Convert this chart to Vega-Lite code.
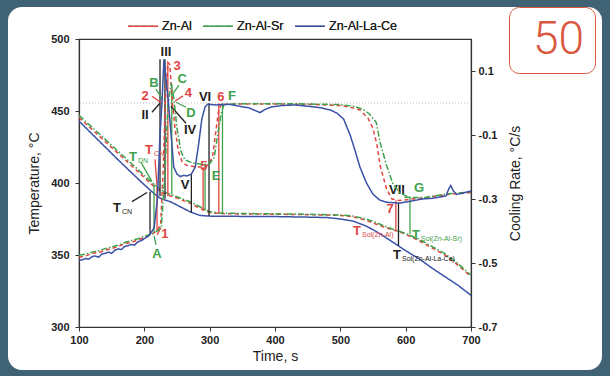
{
"$schema": "https://vega.github.io/schema/vega-lite/v6.json",
"width": 392, "height": 288,
"autosize": {"type": "none"},
"padding": {"left": 79, "top": 39, "right": 139, "bottom": 49},
"background": "#ffffff",
"config": {
  "view": {"stroke": "#333333", "strokeWidth": 1.2},
  "font": "Liberation Sans",
  "axis": {"grid": false, "labelFlush": false, "labelOverlap": false, "domainColor": "#333333", "domainWidth": 1.2, "tickColor": "#333333", "tickSize": 4, "labelFont": "Liberation Sans", "labelFontWeight": "bold", "labelFontSize": 11, "labelColor": "#222222", "titleFont": "Liberation Sans", "titleFontWeight": "normal", "titleFontSize": 14, "titleColor": "#222222"}
},
"datasets": {
  "temp": [
    {"alloy":"Zn-Al","t":100,"v":445.5},{"alloy":"Zn-Al","t":130,"v":433},{"alloy":"Zn-Al","t":160,"v":420.5},{"alloy":"Zn-Al","t":190,"v":408},{"alloy":"Zn-Al","t":210,"v":399.5},{"alloy":"Zn-Al","t":218,"v":396.5},{"alloy":"Zn-Al","t":225,"v":394},{"alloy":"Zn-Al","t":232,"v":392.5},{"alloy":"Zn-Al","t":240,"v":391},{"alloy":"Zn-Al","t":250,"v":389.5},{"alloy":"Zn-Al","t":270,"v":386},{"alloy":"Zn-Al","t":285,"v":382.5},{"alloy":"Zn-Al","t":300,"v":379.5},{"alloy":"Zn-Al","t":315,"v":378.8},{"alloy":"Zn-Al","t":350,"v":378.5},{"alloy":"Zn-Al","t":400,"v":378.3},{"alloy":"Zn-Al","t":450,"v":378},{"alloy":"Zn-Al","t":500,"v":377.5},{"alloy":"Zn-Al","t":520,"v":376.5},{"alloy":"Zn-Al","t":540,"v":374},{"alloy":"Zn-Al","t":560,"v":370.5},{"alloy":"Zn-Al","t":580,"v":367.5},{"alloy":"Zn-Al","t":600,"v":364.5},{"alloy":"Zn-Al","t":620,"v":360},{"alloy":"Zn-Al","t":640,"v":355},{"alloy":"Zn-Al","t":660,"v":350},{"alloy":"Zn-Al","t":680,"v":343},{"alloy":"Zn-Al","t":700,"v":335},
    {"alloy":"Zn-Al-Sr","t":100,"v":447},{"alloy":"Zn-Al-Sr","t":130,"v":434.5},{"alloy":"Zn-Al-Sr","t":160,"v":422},{"alloy":"Zn-Al-Sr","t":190,"v":409.5},{"alloy":"Zn-Al-Sr","t":210,"v":401},{"alloy":"Zn-Al-Sr","t":218,"v":398},{"alloy":"Zn-Al-Sr","t":225,"v":395.5},{"alloy":"Zn-Al-Sr","t":232,"v":393.5},{"alloy":"Zn-Al-Sr","t":240,"v":392},{"alloy":"Zn-Al-Sr","t":250,"v":390.5},{"alloy":"Zn-Al-Sr","t":270,"v":387},{"alloy":"Zn-Al-Sr","t":285,"v":383.5},{"alloy":"Zn-Al-Sr","t":300,"v":380},{"alloy":"Zn-Al-Sr","t":315,"v":379.2},{"alloy":"Zn-Al-Sr","t":350,"v":378.8},{"alloy":"Zn-Al-Sr","t":400,"v":378.6},{"alloy":"Zn-Al-Sr","t":450,"v":378.3},{"alloy":"Zn-Al-Sr","t":500,"v":377.8},{"alloy":"Zn-Al-Sr","t":520,"v":377},{"alloy":"Zn-Al-Sr","t":540,"v":375},{"alloy":"Zn-Al-Sr","t":560,"v":371.5},{"alloy":"Zn-Al-Sr","t":580,"v":368},{"alloy":"Zn-Al-Sr","t":600,"v":365},{"alloy":"Zn-Al-Sr","t":620,"v":361},{"alloy":"Zn-Al-Sr","t":640,"v":356},{"alloy":"Zn-Al-Sr","t":660,"v":351},{"alloy":"Zn-Al-Sr","t":680,"v":344},{"alloy":"Zn-Al-Sr","t":700,"v":336},
    {"alloy":"Zn-Al-La-Ce","t":100,"v":443},{"alloy":"Zn-Al-La-Ce","t":130,"v":429.5},{"alloy":"Zn-Al-La-Ce","t":160,"v":416},{"alloy":"Zn-Al-La-Ce","t":190,"v":403},{"alloy":"Zn-Al-La-Ce","t":209,"v":395},{"alloy":"Zn-Al-La-Ce","t":218,"v":391.5},{"alloy":"Zn-Al-La-Ce","t":226,"v":389},{"alloy":"Zn-Al-La-Ce","t":240,"v":387},{"alloy":"Zn-Al-La-Ce","t":255,"v":383.5},{"alloy":"Zn-Al-La-Ce","t":270,"v":380},{"alloy":"Zn-Al-La-Ce","t":285,"v":377.5},{"alloy":"Zn-Al-La-Ce","t":300,"v":377},{"alloy":"Zn-Al-La-Ce","t":350,"v":376.8},{"alloy":"Zn-Al-La-Ce","t":400,"v":376.7},{"alloy":"Zn-Al-La-Ce","t":450,"v":376.3},{"alloy":"Zn-Al-La-Ce","t":480,"v":376},{"alloy":"Zn-Al-La-Ce","t":500,"v":375},{"alloy":"Zn-Al-La-Ce","t":520,"v":373.5},{"alloy":"Zn-Al-La-Ce","t":540,"v":370},{"alloy":"Zn-Al-La-Ce","t":560,"v":365},{"alloy":"Zn-Al-La-Ce","t":580,"v":359},{"alloy":"Zn-Al-La-Ce","t":600,"v":353},{"alloy":"Zn-Al-La-Ce","t":620,"v":347.5},{"alloy":"Zn-Al-La-Ce","t":640,"v":341},{"alloy":"Zn-Al-La-Ce","t":660,"v":335},{"alloy":"Zn-Al-La-Ce","t":680,"v":329},{"alloy":"Zn-Al-La-Ce","t":700,"v":322}
  ],
  "rate": [
    {"alloy":"Zn-Al","t":100,"v":-0.482},{"alloy":"Zn-Al","t":110,"v":-0.478},{"alloy":"Zn-Al","t":120,"v":-0.47},{"alloy":"Zn-Al","t":130,"v":-0.468},{"alloy":"Zn-Al","t":140,"v":-0.46},{"alloy":"Zn-Al","t":150,"v":-0.455},{"alloy":"Zn-Al","t":160,"v":-0.448},{"alloy":"Zn-Al","t":170,"v":-0.44},{"alloy":"Zn-Al","t":180,"v":-0.436},{"alloy":"Zn-Al","t":190,"v":-0.428},{"alloy":"Zn-Al","t":200,"v":-0.42},{"alloy":"Zn-Al","t":210,"v":-0.412},{"alloy":"Zn-Al","t":219,"v":-0.4},{"alloy":"Zn-Al","t":225,"v":-0.38},{"alloy":"Zn-Al","t":229,"v":-0.2},{"alloy":"Zn-Al","t":232,"v":0},{"alloy":"Zn-Al","t":236,"v":0.127},{"alloy":"Zn-Al","t":239,"v":0.12},{"alloy":"Zn-Al","t":243,"v":0},{"alloy":"Zn-Al","t":247,"v":-0.08},{"alloy":"Zn-Al","t":252,"v":-0.15},{"alloy":"Zn-Al","t":258,"v":-0.185},{"alloy":"Zn-Al","t":265,"v":-0.195},{"alloy":"Zn-Al","t":280,"v":-0.2},{"alloy":"Zn-Al","t":292,"v":-0.2},{"alloy":"Zn-Al","t":300,"v":-0.19},{"alloy":"Zn-Al","t":305,"v":-0.16},{"alloy":"Zn-Al","t":310,"v":-0.08},{"alloy":"Zn-Al","t":314,"v":-0.02},{"alloy":"Zn-Al","t":318,"v":-0.004},{"alloy":"Zn-Al","t":350,"v":-0.003},{"alloy":"Zn-Al","t":400,"v":-0.003},{"alloy":"Zn-Al","t":450,"v":-0.004},{"alloy":"Zn-Al","t":500,"v":-0.008},{"alloy":"Zn-Al","t":515,"v":-0.013},{"alloy":"Zn-Al","t":530,"v":-0.022},{"alloy":"Zn-Al","t":542,"v":-0.046},{"alloy":"Zn-Al","t":550,"v":-0.08},{"alloy":"Zn-Al","t":556,"v":-0.13},{"alloy":"Zn-Al","t":561,"v":-0.197},{"alloy":"Zn-Al","t":571,"v":-0.27},{"alloy":"Zn-Al","t":579,"v":-0.3},{"alloy":"Zn-Al","t":590,"v":-0.305},{"alloy":"Zn-Al","t":610,"v":-0.3},{"alloy":"Zn-Al","t":630,"v":-0.296},{"alloy":"Zn-Al","t":650,"v":-0.29},{"alloy":"Zn-Al","t":670,"v":-0.285},{"alloy":"Zn-Al","t":700,"v":-0.28},
    {"alloy":"Zn-Al-Sr","t":100,"v":-0.476},{"alloy":"Zn-Al-Sr","t":110,"v":-0.472},{"alloy":"Zn-Al-Sr","t":120,"v":-0.466},{"alloy":"Zn-Al-Sr","t":130,"v":-0.462},{"alloy":"Zn-Al-Sr","t":140,"v":-0.455},{"alloy":"Zn-Al-Sr","t":150,"v":-0.45},{"alloy":"Zn-Al-Sr","t":160,"v":-0.444},{"alloy":"Zn-Al-Sr","t":170,"v":-0.436},{"alloy":"Zn-Al-Sr","t":180,"v":-0.43},{"alloy":"Zn-Al-Sr","t":190,"v":-0.424},{"alloy":"Zn-Al-Sr","t":200,"v":-0.416},{"alloy":"Zn-Al-Sr","t":210,"v":-0.41},{"alloy":"Zn-Al-Sr","t":216,"v":-0.405},{"alloy":"Zn-Al-Sr","t":226,"v":-0.39},{"alloy":"Zn-Al-Sr","t":232,"v":-0.2},{"alloy":"Zn-Al-Sr","t":236,"v":-0.01},{"alloy":"Zn-Al-Sr","t":241,"v":0.06},{"alloy":"Zn-Al-Sr","t":244,"v":0.03},{"alloy":"Zn-Al-Sr","t":246,"v":0},{"alloy":"Zn-Al-Sr","t":250,"v":-0.08},{"alloy":"Zn-Al-Sr","t":256,"v":-0.15},{"alloy":"Zn-Al-Sr","t":262,"v":-0.178},{"alloy":"Zn-Al-Sr","t":275,"v":-0.188},{"alloy":"Zn-Al-Sr","t":290,"v":-0.192},{"alloy":"Zn-Al-Sr","t":300,"v":-0.19},{"alloy":"Zn-Al-Sr","t":307,"v":-0.17},{"alloy":"Zn-Al-Sr","t":313,"v":-0.09},{"alloy":"Zn-Al-Sr","t":318,"v":-0.03},{"alloy":"Zn-Al-Sr","t":322,"v":-0.005},{"alloy":"Zn-Al-Sr","t":350,"v":-0.002},{"alloy":"Zn-Al-Sr","t":400,"v":-0.002},{"alloy":"Zn-Al-Sr","t":450,"v":-0.003},{"alloy":"Zn-Al-Sr","t":500,"v":-0.005},{"alloy":"Zn-Al-Sr","t":520,"v":-0.01},{"alloy":"Zn-Al-Sr","t":535,"v":-0.02},{"alloy":"Zn-Al-Sr","t":545,"v":-0.035},{"alloy":"Zn-Al-Sr","t":555,"v":-0.061},{"alloy":"Zn-Al-Sr","t":561,"v":-0.124},{"alloy":"Zn-Al-Sr","t":571,"v":-0.197},{"alloy":"Zn-Al-Sr","t":581,"v":-0.255},{"alloy":"Zn-Al-Sr","t":591,"v":-0.28},{"alloy":"Zn-Al-Sr","t":600,"v":-0.29},{"alloy":"Zn-Al-Sr","t":607,"v":-0.295},{"alloy":"Zn-Al-Sr","t":630,"v":-0.295},{"alloy":"Zn-Al-Sr","t":650,"v":-0.288},{"alloy":"Zn-Al-Sr","t":670,"v":-0.283},{"alloy":"Zn-Al-Sr","t":700,"v":-0.278},
    {"alloy":"Zn-Al-La-Ce","t":100,"v":-0.492},{"alloy":"Zn-Al-La-Ce","t":105,"v":-0.49},{"alloy":"Zn-Al-La-Ce","t":110,"v":-0.486},{"alloy":"Zn-Al-La-Ce","t":115,"v":-0.488},{"alloy":"Zn-Al-La-Ce","t":120,"v":-0.48},{"alloy":"Zn-Al-La-Ce","t":125,"v":-0.478},{"alloy":"Zn-Al-La-Ce","t":130,"v":-0.482},{"alloy":"Zn-Al-La-Ce","t":135,"v":-0.472},{"alloy":"Zn-Al-La-Ce","t":140,"v":-0.47},{"alloy":"Zn-Al-La-Ce","t":145,"v":-0.466},{"alloy":"Zn-Al-La-Ce","t":150,"v":-0.47},{"alloy":"Zn-Al-La-Ce","t":155,"v":-0.46},{"alloy":"Zn-Al-La-Ce","t":160,"v":-0.456},{"alloy":"Zn-Al-La-Ce","t":165,"v":-0.458},{"alloy":"Zn-Al-La-Ce","t":170,"v":-0.448},{"alloy":"Zn-Al-La-Ce","t":175,"v":-0.446},{"alloy":"Zn-Al-La-Ce","t":180,"v":-0.442},{"alloy":"Zn-Al-La-Ce","t":185,"v":-0.444},{"alloy":"Zn-Al-La-Ce","t":190,"v":-0.434},{"alloy":"Zn-Al-La-Ce","t":195,"v":-0.43},{"alloy":"Zn-Al-La-Ce","t":200,"v":-0.424},{"alloy":"Zn-Al-La-Ce","t":205,"v":-0.418},{"alloy":"Zn-Al-La-Ce","t":209,"v":-0.41},{"alloy":"Zn-Al-La-Ce","t":215,"v":-0.39},{"alloy":"Zn-Al-La-Ce","t":220,"v":-0.3},{"alloy":"Zn-Al-La-Ce","t":224,"v":-0.1},{"alloy":"Zn-Al-La-Ce","t":227,"v":0},{"alloy":"Zn-Al-La-Ce","t":230,"v":0.137},{"alloy":"Zn-Al-La-Ce","t":234,"v":0.06},{"alloy":"Zn-Al-La-Ce","t":237,"v":0},{"alloy":"Zn-Al-La-Ce","t":241,"v":-0.1},{"alloy":"Zn-Al-La-Ce","t":245,"v":-0.2},{"alloy":"Zn-Al-La-Ce","t":250,"v":-0.222},{"alloy":"Zn-Al-La-Ce","t":255,"v":-0.23},{"alloy":"Zn-Al-La-Ce","t":260,"v":-0.226},{"alloy":"Zn-Al-La-Ce","t":265,"v":-0.228},{"alloy":"Zn-Al-La-Ce","t":272,"v":-0.222},{"alloy":"Zn-Al-La-Ce","t":278,"v":-0.2},{"alloy":"Zn-Al-La-Ce","t":283,"v":-0.13},{"alloy":"Zn-Al-La-Ce","t":288,"v":-0.05},{"alloy":"Zn-Al-La-Ce","t":293,"v":-0.012},{"alloy":"Zn-Al-La-Ce","t":297,"v":-0.004},{"alloy":"Zn-Al-La-Ce","t":310,"v":-0.006},{"alloy":"Zn-Al-La-Ce","t":330,"v":-0.004},{"alloy":"Zn-Al-La-Ce","t":350,"v":-0.012},{"alloy":"Zn-Al-La-Ce","t":360,"v":-0.015},{"alloy":"Zn-Al-La-Ce","t":370,"v":-0.024},{"alloy":"Zn-Al-La-Ce","t":377,"v":-0.03},{"alloy":"Zn-Al-La-Ce","t":385,"v":-0.02},{"alloy":"Zn-Al-La-Ce","t":395,"v":-0.012},{"alloy":"Zn-Al-La-Ce","t":410,"v":-0.008},{"alloy":"Zn-Al-La-Ce","t":430,"v":-0.006},{"alloy":"Zn-Al-La-Ce","t":450,"v":-0.01},{"alloy":"Zn-Al-La-Ce","t":470,"v":-0.015},{"alloy":"Zn-Al-La-Ce","t":485,"v":-0.022},{"alloy":"Zn-Al-La-Ce","t":495,"v":-0.032},{"alloy":"Zn-Al-La-Ce","t":505,"v":-0.05},{"alloy":"Zn-Al-La-Ce","t":515,"v":-0.1},{"alloy":"Zn-Al-La-Ce","t":522,"v":-0.145},{"alloy":"Zn-Al-La-Ce","t":530,"v":-0.2},{"alloy":"Zn-Al-La-Ce","t":540,"v":-0.25},{"alloy":"Zn-Al-La-Ce","t":550,"v":-0.285},{"alloy":"Zn-Al-La-Ce","t":560,"v":-0.303},{"alloy":"Zn-Al-La-Ce","t":570,"v":-0.31},{"alloy":"Zn-Al-La-Ce","t":590,"v":-0.313},{"alloy":"Zn-Al-La-Ce","t":610,"v":-0.306},{"alloy":"Zn-Al-La-Ce","t":625,"v":-0.3},{"alloy":"Zn-Al-La-Ce","t":640,"v":-0.298},{"alloy":"Zn-Al-La-Ce","t":655,"v":-0.293},{"alloy":"Zn-Al-La-Ce","t":662,"v":-0.29},{"alloy":"Zn-Al-La-Ce","t":666,"v":-0.268},{"alloy":"Zn-Al-La-Ce","t":669,"v":-0.258},{"alloy":"Zn-Al-La-Ce","t":673,"v":-0.275},{"alloy":"Zn-Al-La-Ce","t":678,"v":-0.286},{"alloy":"Zn-Al-La-Ce","t":690,"v":-0.28},{"alloy":"Zn-Al-La-Ce","t":700,"v":-0.275}
  ],
  "rules": [
    {"alloy":"Zn-Al-La-Ce","t":208.7,"t2":208.7,"v":394,"v2":364.4},
    {"alloy":"Zn-Al-Sr","t":214.8,"t2":214.8,"v":399.6,"v2":365.6},
    {"alloy":"Zn-Al","t":219.4,"t2":219.4,"v":396.9,"v2":366.7},
    {"alloy":"Zn-Al-La-Ce","t":224,"t2":224,"v":486,"v2":391},
    {"alloy":"Zn-Al-La-Ce","t":231.6,"t2":231.6,"v":486,"v2":389},
    {"alloy":"Zn-Al","t":236,"t2":236,"v":483.8,"v2":391},
    {"alloy":"Zn-Al-Sr","t":242,"t2":242,"v":468.9,"v2":392},
    {"alloy":"Zn-Al-La-Ce","t":272,"t2":272,"v":406.2,"v2":379.5},
    {"alloy":"Zn-Al","t":290,"t2":290,"v":411.1,"v2":380.5},
    {"alloy":"Zn-Al-Sr","t":293,"t2":293,"v":412.9,"v2":381},
    {"alloy":"Zn-Al-La-Ce","t":299,"t2":299,"v":455.6,"v2":377},
    {"alloy":"Zn-Al","t":314,"t2":314,"v":455.6,"v2":378.8},
    {"alloy":"Zn-Al-Sr","t":319.6,"t2":319.6,"v":455.6,"v2":379.2},
    {"alloy":"Zn-Al","t":585,"t2":585,"v":387.8,"v2":367},
    {"alloy":"Zn-Al-La-Ce","t":589,"t2":589,"v":386.2,"v2":356.4},
    {"alloy":"Zn-Al-Sr","t":606.6,"t2":606.6,"v":390,"v2":364.5},
    {"alloy":"Zn-Al-Sr","t":598,"t2":606.6,"v":390,"v2":390},
    {"alloy":"Zn-Al-La-Ce","t":181.1,"t2":204.1,"v":387.1,"v2":393.4},
    {"alloy":"Zn-Al-La-Ce","t":211.7,"t2":224,"v":449.1,"v2":455.4},
    {"alloy":"Zn-Al-La-Ce","t":263.8,"t2":240.8,"v":441.5,"v2":453.3},
    {"alloy":"Zn-Al","t":211.7,"t2":227,"v":460.3,"v2":455.4},
    {"alloy":"Zn-Al-Sr","t":217.9,"t2":228.6,"v":465.2,"v2":457.5},
    {"alloy":"Zn-Al-Sr","t":253,"t2":242.3,"v":467.9,"v2":461},
    {"alloy":"Zn-Al","t":259.2,"t2":247,"v":460.5,"v2":456.8},
    {"alloy":"Zn-Al-Sr","t":263.8,"t2":248.5,"v":452.6,"v2":456.1},
    {"alloy":"Zn-Al-Sr","t":194.9,"t2":211.7,"v":414.3,"v2":401},
    {"alloy":"Zn-Al","t":216.3,"t2":219.4,"v":416.4,"v2":398.3},
    {"alloy":"Zn-Al","t":225.5,"t2":219.4,"v":369,"v2":364},
    {"alloy":"Zn-Al-Sr","t":217.9,"t2":214.8,"v":357.1,"v2":363.4}
  ],
  "labels": [
    {"alloy":"Zn-Al-La-Ce","t":233.2,"v":490.9,"text":"III"},
    {"alloy":"Zn-Al","t":250,"v":481.2,"text":"3"},
    {"alloy":"Zn-Al-Sr","t":258,"v":472.4,"text":"C"},
    {"alloy":"Zn-Al-Sr","t":214.8,"v":469.3,"text":"B"},
    {"alloy":"Zn-Al","t":201,"v":460.3,"text":"2"},
    {"alloy":"Zn-Al","t":267.5,"v":462.5,"text":"4"},
    {"alloy":"Zn-Al-Sr","t":271.4,"v":448.4,"text":"D"},
    {"alloy":"Zn-Al-La-Ce","t":201,"v":447,"text":"II"},
    {"alloy":"Zn-Al-La-Ce","t":270,"v":436.6,"text":"IV"},
    {"alloy":"Zn-Al-La-Ce","t":292.9,"v":459.6,"text":"VI"},
    {"alloy":"Zn-Al","t":317.3,"v":459.6,"text":"6"},
    {"alloy":"Zn-Al-Sr","t":334.2,"v":460.3,"text":"F"},
    {"alloy":"Zn-Al","t":291.3,"v":411.5,"text":"5"},
    {"alloy":"Zn-Al-Sr","t":309.7,"v":405.2,"text":"E"},
    {"alloy":"Zn-Al-La-Ce","t":262.2,"v":398.3,"text":"V"},
    {"alloy":"Zn-Al-Sr","t":182.7,"v":417.8,"text":"T","sub":"DN"},
    {"alloy":"Zn-Al","t":207.1,"v":422.6,"text":"T","sub":"CN"},
    {"alloy":"Zn-Al-La-Ce","t":158.2,"v":382.9,"text":"T","sub":"CN"},
    {"alloy":"Zn-Al","t":231.6,"v":364.8,"text":"1"},
    {"alloy":"Zn-Al-Sr","t":219.4,"v":350.9,"text":"A"},
    {"alloy":"Zn-Al-La-Ce","t":586.7,"v":394.8,"text":"VII"},
    {"alloy":"Zn-Al-Sr","t":620.4,"v":396.2,"text":"G"},
    {"alloy":"Zn-Al","t":576,"v":382.2,"text":"7"},
    {"alloy":"Zn-Al","t":525.5,"v":366.9,"text":"T","sub":"Sol(Zn-Al)"},
    {"alloy":"Zn-Al-Sr","t":615.8,"v":364.1,"text":"T","sub":"Sol(Zn-Al-Sr)"},
    {"alloy":"Zn-Al-La-Ce","t":586.7,"v":350.2,"text":"T","sub":"Sol(Zn-Al-La-Ce)"}
  ],
  "badge": [{"badge":"50", "card": 1}]
},
"layer": [
  {
    "layer": [
      {
        "data": {"name": "temp"},
        "mark": {"type": "line", "strokeWidth": 1.5},
        "encoding": {
          "x": {"field": "t", "type": "quantitative", "title": "Time, s", "scale": {"domain": [100, 700], "nice": false}, "axis": {"values": [100,150,200,250,300,350,400,450,500,550,600,650,700], "labelExpr": "datum.value % 100 === 0 ? datum.label : ''", "labelPadding": 3, "titlePadding": 4}},
          "y": {"field": "v", "type": "quantitative", "title": "Temperature, °C", "scale": {"domain": [300, 500], "nice": false, "zero": false}, "axis": {"orient": "left", "values": [300,325,350,375,400,425,450,475,500], "labelExpr": "datum.value % 50 === 0 ? datum.label : ''", "labelPadding": 6, "titlePadding": 9}},
          "color": {"field": "alloy", "type": "nominal", "scale": {"domain": ["Zn-Al", "Zn-Al-Sr", "Zn-Al-La-Ce"], "range": ["#e0453f", "#3fa24c", "#3b51a6"]}, "legend": {"orient": "none", "legendX": 48, "legendY": -29, "direction": "horizontal", "title": null, "symbolType": "stroke", "symbolSize": 900, "symbolStrokeWidth": 1.5, "labelFont": "Liberation Sans", "labelFontSize": 12.5, "labelColor": "#222222", "labelOffset": 3, "columnPadding": 8}},
          "strokeDash": {"field": "alloy", "type": "nominal", "scale": {"domain": ["Zn-Al", "Zn-Al-Sr", "Zn-Al-La-Ce"], "range": [[4, 3], [6, 2, 1.5, 2], [1, 0]]}, "legend": {"orient": "none", "legendX": 48, "legendY": -29, "direction": "horizontal", "title": null, "symbolType": "stroke", "symbolSize": 900, "symbolStrokeWidth": 1.5, "labelFont": "Liberation Sans", "labelFontSize": 12.5, "labelColor": "#222222", "labelOffset": 3, "columnPadding": 8}}
        }
      },
      {
        "data": {"name": "rules"},
        "mark": {"type": "rule", "strokeWidth": 1.3},
        "encoding": {
          "x": {"field": "t", "type": "quantitative", "title": "Time, s"},
          "x2": {"field": "t2"},
          "y": {"field": "v", "type": "quantitative", "title": "Temperature, °C"},
          "y2": {"field": "v2"},
          "color": {"field": "alloy", "type": "nominal", "scale": {"domain": ["Zn-Al", "Zn-Al-Sr", "Zn-Al-La-Ce"], "range": ["#e0453f", "#3fa24c", "#222222"]}, "legend": null}
        }
      },
      {
        "data": {"name": "labels"},
        "mark": {"type": "text", "font": "Liberation Sans", "fontWeight": "bold", "fontSize": 13, "align": "center", "baseline": "middle"},
        "encoding": {
          "x": {"field": "t", "type": "quantitative", "title": "Time, s"},
          "y": {"field": "v", "type": "quantitative", "title": "Temperature, °C"},
          "text": {"field": "text"},
          "color": {"field": "alloy", "type": "nominal", "scale": {"domain": ["Zn-Al", "Zn-Al-Sr", "Zn-Al-La-Ce"], "range": ["#e0453f", "#3fa24c", "#222222"]}, "legend": null}
        }
      },
      {
        "data": {"name": "labels"},
        "transform": [{"filter": "datum.sub != null"}],
        "mark": {"type": "text", "font": "Liberation Sans", "fontSize": 7, "align": "left", "baseline": "middle", "dx": 5, "dy": 4},
        "encoding": {
          "x": {"field": "t", "type": "quantitative", "title": "Time, s"},
          "y": {"field": "v", "type": "quantitative", "title": "Temperature, °C"},
          "text": {"field": "sub"},
          "color": {"field": "alloy", "type": "nominal", "scale": {"domain": ["Zn-Al", "Zn-Al-Sr", "Zn-Al-La-Ce"], "range": ["#e0453f", "#3fa24c", "#222222"]}, "legend": null}
        }
      }
    ],
    "resolve": {"scale": {"color": "independent"}}
  },
  {
    "layer": [
      {
        "data": {"values": [{"zero": 0}]},
        "mark": {"type": "rule", "color": "#bbbbbb", "strokeDash": [1, 2], "strokeWidth": 1},
        "encoding": {"y": {"field": "zero", "type": "quantitative", "title": "Cooling Rate, °C/s", "scale": {"domain": [-0.7, 0.2], "nice": false, "zero": false}}}
      },
      {
        "data": {"name": "rate"},
        "mark": {"type": "line", "strokeWidth": 1.5},
        "encoding": {
          "x": {"field": "t", "type": "quantitative", "title": "Time, s"},
          "y": {"field": "v", "type": "quantitative", "title": "Cooling Rate, °C/s", "scale": {"domain": [-0.7, 0.2], "nice": false, "zero": false}, "axis": {"orient": "right", "titleAngle": -90, "titleBaseline": "top", "labelOverlap": false, "labelBound": false, "values": [-0.7,-0.6,-0.5,-0.4,-0.3,-0.2,-0.1,0,0.1,0.2], "format": ".1f", "labelExpr": "replace(datum.label, '\u2212', '-')", "labelPadding": 3, "titlePadding": 12}},
          "color": {"field": "alloy", "type": "nominal", "scale": {"domain": ["Zn-Al", "Zn-Al-Sr", "Zn-Al-La-Ce"], "range": ["#e0453f", "#3fa24c", "#3b51a6"]}, "legend": null},
          "strokeDash": {"field": "alloy", "type": "nominal", "scale": {"domain": ["Zn-Al", "Zn-Al-Sr", "Zn-Al-La-Ce"], "range": [[4, 3], [6, 2, 1.5, 2], [1, 0]]}, "legend": null}
        }
      }
    ]
  },
  {
    "data": {"name": "badge"},
    "mark": {"type": "point", "opacity": 0, "filled": true, "color": "transparent", "fill": "transparent", "stroke": "#3f6274"},
    "encoding": {
      "shape": {"field": "badge", "type": "nominal", "legend": {"orient": "none", "legendX": 430, "legendY": -32, "title": null, "symbolOpacity": 0, "symbolSize": 0, "symbolStrokeWidth": 0, "labelFont": "Roboto", "labelFontWeight": 300, "labelFontSize": 46, "labelColor": "#d9583f", "labelOffset": -32, "strokeColor": "#d9583f", "fillColor": "#ffffff", "cornerRadius": 10, "padding": 10, "zindex": 2}},
      "size": {"field": "card", "type": "quantitative", "scale": {"type": "linear", "domain": [0, 1], "range": [0, 376996]}, "legend": {"orient": "none", "legendX": -91, "legendY": -167.5, "title": null, "values": [1], "padding": 0, "labelExpr": "''", "labelOffset": 0, "symbolType": "M-0.9218,-0.6238H0.9218A0.0782,0.0782 0 0 1 1,-0.5456V0.5456A0.0782,0.0782 0 0 1 0.9218,0.6238H-0.9218A0.0782,0.0782 0 0 1 -1,0.5456V-0.5456A0.0782,0.0782 0 0 1 -0.9218,-0.6238Z", "symbolFillColor": "transparent", "symbolStrokeColor": "#3f6274", "symbolStrokeWidth": 20, "symbolOpacity": 1, "zindex": 1}}
    }
  }
],
"resolve": {"scale": {"y": "independent", "color": "independent", "strokeDash": "independent"}}
}
